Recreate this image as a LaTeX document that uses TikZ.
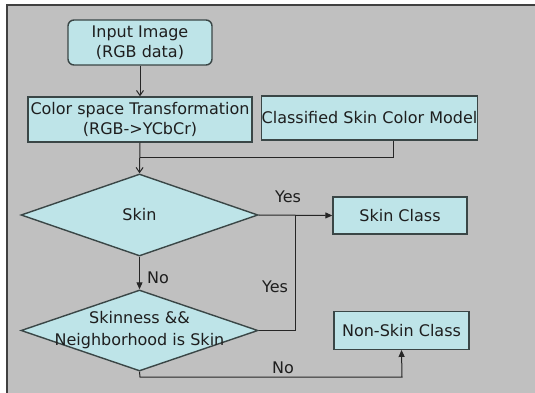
\documentclass[tikz,border=0pt]{standalone}
\usepackage{fontspec}
\setmainfont{DejaVu Sans}
\usetikzlibrary{shapes.geometric,arrows.meta}
\definecolor{bggray}{RGB}{192,192,192}
\definecolor{boxfill}{RGB}{190,228,232}
\definecolor{boxline}{RGB}{58,70,70}
\definecolor{txt}{RGB}{30,30,30}
\tikzset{
  boxbase/.style={draw=boxline, fill=boxfill, line width=1.4pt, inner sep=0pt,
    font=\fontsize{16}{20}\selectfont, text=txt, align=center},
  procbox/.style={boxbase, rectangle},
  termbox/.style={boxbase, rectangle, rounded corners=6pt},
  decbox/.style={boxbase, diamond, minimum width=237pt, minimum height=82pt},
  dectext/.style={font=\fontsize{16}{22}\selectfont, text=txt, align=center, inner sep=0pt},
  lbl/.style={font=\fontsize{16}{20}\selectfont, text=txt, inner sep=0pt},
  conn/.style={draw=black!85, line width=1pt},
  arr/.style={conn, -{Triangle[length=7pt,width=6pt]}},
  openarr/.style={conn, -{Straight Barb[length=5pt,width=7pt,line width=1pt]}},
}
\begin{document}
\begin{tikzpicture}[x=1pt,y=-1pt]
\useasboundingbox (0,0) rectangle (535,393);
\fill[white] (0,0) rectangle (535,393);
\fill[bggray] (7,5) rectangle (535,393);
\draw[line width=1.6pt, black!75] (7,393) -- (7,5) -- (535,5);

\node[termbox, minimum width=144pt, minimum height=45pt] (input) at (140,42.5) {Input Image\\(RGB data)};
\node[procbox, minimum width=224pt, minimum height=45pt] (cst) at (140,119.5) {Color space Transformation\\(RGB->YCbCr)};
\node[procbox, minimum width=177pt, minimum height=44pt] (csm) at (369.5,118) {Classified Skin Color Model};
\node[decbox, label={[dectext]center:Skin}] (skin) at (139.5,215) {};
\node[decbox, minimum height=81pt, label={[dectext]center:Skinness \&\&\\Neighborhood is Skin}] (d2) at (139.5,330.5) {};
\node[procbox, minimum width=134pt, minimum height=37pt] (sc) at (400,215.5) {Skin Class};
\node[procbox, minimum width=135pt, minimum height=37.5pt] (nsc) at (401.5,330.5) {Non-Skin Class};

\coordinate (j1) at (140,157);
\coordinate (j2) at (295,215);
\coordinate (b1) at (140,377);
\coordinate (b2) at (402,377);

\draw[openarr] (input.south) -- (cst.north);
\draw[conn] ([xshift=23.5pt]csm.south) |- (j1);
\draw[openarr] (cst.south) -- (skin.north);
\draw[arr] (skin.east) -- (sc.west);
\draw[arr] (skin.south) -- (d2.north);
\draw[conn] (d2.east) -| (j2);
\draw[arr] (d2.south) -- (b1) -- (b2) -- (nsc.south);

\node[lbl] (yes1) at (288,197) {Yes};
\node[lbl] (no1) at (158,278) {No};
\node[lbl] (yes2) at (275,287) {Yes};
\node[lbl] (no2) at (283,368) {No};
\end{tikzpicture}
\end{document}
